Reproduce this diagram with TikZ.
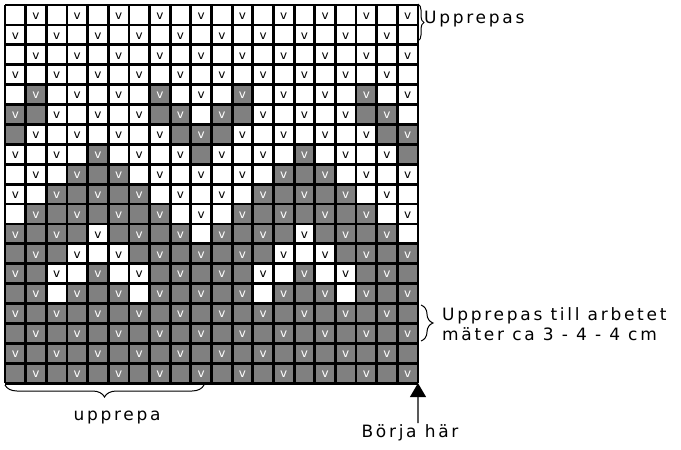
\documentclass[tikz,border=0pt]{standalone}
\usepackage{fontspec}
\setmainfont{DejaVu Sans}
\newfontfamily\lblfont[LetterSpace=16]{DejaVu Sans}
\usetikzlibrary{decorations.pathreplacing,arrows.meta}
\definecolor{cellgray}{HTML}{808080}
\tikzset{
  vmark/.style={font=\fontsize{12}{12}\selectfont, inner sep=0pt},
  gridline/.style={line width=2.8pt, black},
  bracestyle/.style={decorate, line width=1pt},
  lbl/.style={font=\lblfont\fontsize{17}{20}\selectfont, inner sep=0pt},
}
\begin{document}
\begin{tikzpicture}[x=1pt,y=-1pt]
\useasboundingbox (0,0) rectangle (681,450);
\def\cw{20.65}
\def\ch{19.9}
% gray cells (pattern repeats every 10 columns)
\foreach \ro/\cl in {5/{2,8},6/{1,2,8,9},7/{1,9,10},8/{5,10},9/{4,5,6},10/{3,4,5,6,7},11/{2,3,4,5,6,7,8},12/{1,2,3,4,6,7,8,9},13/{1,2,3,7,8,9,10},14/{1,2,5,8,9,10},15/{1,2,4,5,6,8,9,10},16/{1,2,3,4,5,6,7,8,9,10},17/{1,2,3,4,5,6,7,8,9,10},18/{1,2,3,4,5,6,7,8,9,10},19/{1,2,3,4,5,6,7,8,9,10}}{
  \foreach \co in \cl {
    \foreach \k in {0,10} {
      \pgfmathtruncatemacro\cc{\co+\k}
      \fill[cellgray] ({5+(\cc-1)*\cw},{5+(\ro-1)*\ch}) rectangle ++(\cw,\ch);
      \expandafter\xdef\csname gcell\ro x\cc\endcsname{1}
    }
  }
}
% v marks
\foreach \ro in {1,...,19}{
  \foreach \co in {1,...,20}{
    \pgfmathtruncatemacro\pty{mod(\ro+\co,2)}
    \ifnum\pty=1
      \ifcsname gcell\ro x\co\endcsname\def\vc{white}\else\def\vc{black}\fi
      \node[vmark, text=\vc] (v\ro x\co) at ({5+(\co-0.5)*\cw},{5+(\ro-0.5)*\ch+1}) {v};
    \fi
  }
}
% grid lines
\foreach \i in {0,...,20}{
  \draw[gridline] ({5+\i*\cw},5) -- ({5+\i*\cw},{5+19*\ch});
}
\foreach \j in {0,...,19}{
  \draw[gridline] (5,{5+\j*\ch}) -- ({5+20*\cw},{5+\j*\ch});
}
\coordinate (gridBR) at ({5+20*\cw},{5+19*\ch});
% top brace
\coordinate (tb1) at (418,4);
\coordinate (tb2) at (418,41);
\draw[bracestyle, decoration={brace, amplitude=6pt}] (tb1) -- (tb2);
\node[lbl, anchor=base west] (uppr) at (424,23) {Upprepas};
% middle brace
\coordinate (mb1) at (421,305);
\coordinate (mb2) at (421,341);
\draw[bracestyle, decoration={brace, amplitude=12pt}] (mb1) -- (mb2);
\node[lbl, anchor=base west] (till) at (442,320) {Upprepas till arbetet};
\node[lbl, anchor=base west] (mater) at (442,340) {mäter ca 3 - 4 - 4 cm};
% bottom brace
\coordinate (bb1) at (5,385);
\coordinate (bb2) at (204,385);
\draw[bracestyle, decoration={brace, mirror, amplitude=12pt}] (bb1) -- (bb2);
\node[lbl, anchor=base] (upprepa) at (117,420) {upprepa};
% start arrow
\coordinate (arrStart) at (418,423);
\draw[line width=1.3pt, -{Triangle[length=14pt,width=16pt]}] (arrStart) -- (gridBR);
\node[lbl, anchor=base] (borja) at (410,437) {Börja här};
\end{tikzpicture}
\end{document}
